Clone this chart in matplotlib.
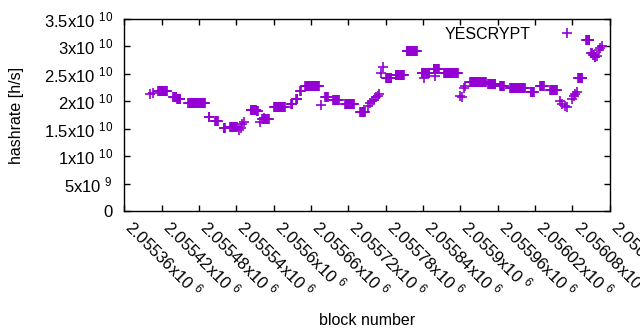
import numpy as np
import matplotlib
matplotlib.use('Agg')
import matplotlib.pyplot as plt
from matplotlib.ticker import FuncFormatter, MultipleLocator

plt.rcParams['font.family'] = ['Liberation Sans', 'DejaVu Sans']
plt.rcParams['mathtext.fontset'] = 'custom'
plt.rcParams['mathtext.rm'] = 'Liberation Sans'
plt.rcParams['mathtext.it'] = 'Liberation Sans'
plt.rcParams['mathtext.default'] = 'regular'

# block runs with a constant hashrate estimate (offset from first block, in 1e10 h/s)
base_block = 2055360
run_start = [42, 47, 55, 79, 85, 103, 136, 146, 160, 170, 184, 187, 190, 193,
             203, 213, 219, 222, 224, 241, 268, 276, 283, 291, 316, 323, 336,
             355, 379, 392, 395, 398, 401, 404, 407, 410, 413, 415, 421, 436,
             454, 478, 482, 497, 499, 514, 540, 542, 546, 548, 556, 585, 604,
             620, 653, 668, 684, 700, 704, 708, 712, 719, 722, 725, 727, 729,
             742, 750, 753, 756, 759, 762, 765, 767]
run_end = [42, 47, 69, 84, 90, 130, 137, 150, 162, 181, 184, 187, 190, 193,
           212, 215, 219, 232, 224, 258, 270, 278, 284, 313, 316, 327, 345,
           369, 387, 392, 395, 398, 401, 404, 407, 410, 413, 415, 429, 449,
           470, 490, 482, 505, 499, 536, 540, 542, 546, 548, 581, 596, 610,
           644, 658, 674, 695, 700, 704, 708, 712, 719, 722, 725, 727, 736,
           747, 751, 754, 757, 759, 762, 765, 767]
run_value = [2.13, 2.16, 2.19, 2.08, 2.05, 1.96, 1.72, 1.64, 1.51, 1.54, 1.47,
             1.52, 1.58, 1.62, 1.84, 1.82, 1.63, 1.68, 1.70, 1.89, 1.95, 2.05,
             2.18, 2.28, 1.93, 2.08, 2.02, 1.95, 1.80, 1.92, 1.97, 2.00, 2.03,
             2.07, 2.10, 2.13, 2.52, 2.62, 2.42, 2.48, 2.91, 2.52, 2.42, 2.58,
             2.46, 2.52, 2.10, 2.08, 2.25, 2.27, 2.36, 2.31, 2.27, 2.24, 2.17,
             2.27, 2.20, 2.00, 1.95, 1.92, 1.90, 2.05, 2.10, 2.14, 2.17, 2.43,
             3.12, 2.88, 2.85, 2.80, 2.82, 2.93, 2.97, 3.00]

blocks = []
rates = []
for s, e, v in zip(run_start, run_end, run_value):
    for b in range(s, e + 1):
        blocks.append(base_block + b)
        rates.append(v * 1e10)
blocks = np.array(blocks)
rates = np.array(rates)


def sci_label(v, pos):
    if v == 0:
        return '0'
    exp = int(np.floor(np.log10(abs(v)) + 1e-9))
    mant = v / 10 ** exp
    return '%gx10 $^{%d}$' % (round(mant, 6), exp)


fig = plt.figure(figsize=(6.4, 3.3), dpi=100)
ax = fig.add_axes([0.194, 0.3606, 0.7587, 0.5818])

ax.plot(blocks, rates, '+', color='#9400d3', ms=6.5, mew=1.2, label='YESCRYPT')

ax.set_xlim(2055360, 2056140)
ax.set_ylim(0, 3.5e10)
ax.xaxis.set_major_locator(MultipleLocator(60))
ax.yaxis.set_major_locator(MultipleLocator(5e9))
ax.xaxis.set_major_formatter(FuncFormatter(sci_label))
ax.yaxis.set_major_formatter(FuncFormatter(sci_label))
ax.tick_params(direction='in', length=4, width=1, top=True, right=True,
               labelsize=12, colors='black')
ax.tick_params(axis='y', pad=8)
for lab in ax.get_xticklabels():
    lab.set_rotation(-45)
    lab.set_ha('left')
    lab.set_va('baseline')
    lab.set_rotation_mode('anchor')
ax.tick_params(axis='x', pad=12)
for sp in ax.spines.values():
    sp.set_linewidth(1)

ax.set_ylabel('hashrate [h/s]', fontsize=11.5)
ax.set_xlabel('block number', fontsize=11.5)
ax.yaxis.set_label_coords(-0.207, 0.5)
ax.xaxis.set_label_coords(0.5, -0.53)

ax.legend(loc='upper right', bbox_to_anchor=(0.945, 0.96), markerfirst=False,
          frameon=False, fontsize=11.5, handlelength=2, handletextpad=1.3,
          borderpad=0, borderaxespad=0)

plt.savefig('out.png', dpi=100)
